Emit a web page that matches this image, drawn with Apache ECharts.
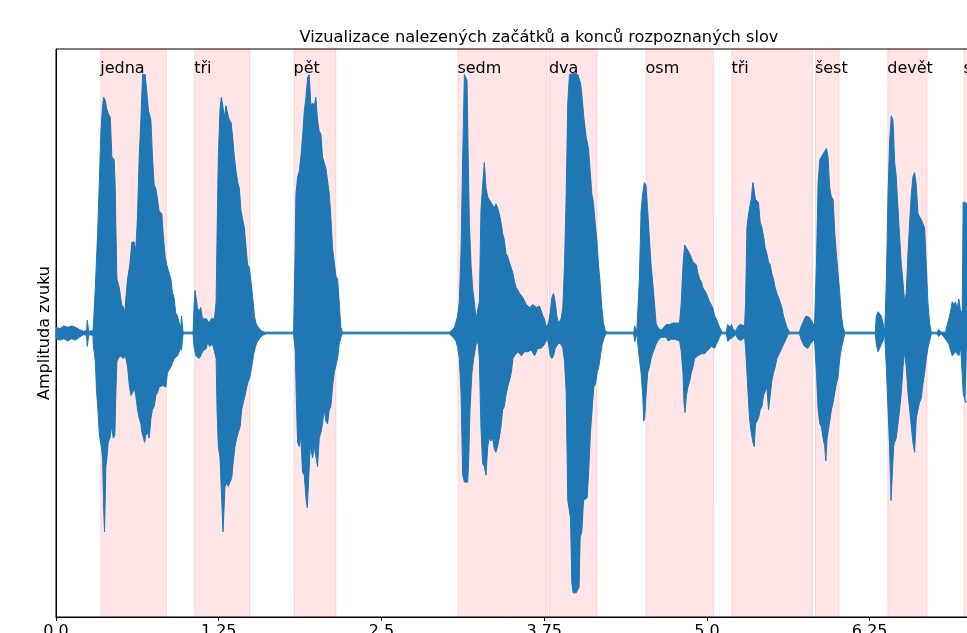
<!DOCTYPE html>
<html>
<head>
<meta charset="utf-8">
<script src="https://cdn.jsdelivr.net/npm/echarts@6/dist/echarts.min.js"></script>
<style>
html,body{margin:0;padding:0;background:#fff;}
#chart{width:967px;height:633px;}
</style>
</head>
<body>
<div id="chart"></div>
<script>
// ---- data (time in seconds, amplitude normalised) ----
const titleText = 'Vizualizace nalezených začátků a konců rozpoznaných slov';
const yAxisName = 'Amplituda zvuku';
const tickValues = [0, 1.25, 2.5, 3.75, 5.0, 6.25];
const tickLabels = ['0.0', '1.25', '2.5', '3.75', '5.0', '6.25'];
const words      = ['jedna', 'tři', 'pět', 'sedm', 'dva', 'osm', 'tři', 'šest', 'devět', 'sedm'];
const wordStarts = [0.344, 1.065, 1.828, 3.087, 3.790, 4.532, 5.192, 5.833, 6.389, 6.975];
const wordEnds   = [0.848, 1.490, 2.150, 3.774, 4.156, 5.051, 5.811, 6.015, 6.691, 7.300];

// upper envelope of the waveform [time, amplitude]
const upperEnvelope = [
[0.000,0.020],[0.030,0.015],[0.060,0.025],[0.090,0.020],[0.120,0.025],[0.150,0.020],[0.180,0.012],[0.210,0.006],[0.235,0.008],[0.240,0.045],[0.248,0.045],[0.252,0.006],[0.284,0.008],
[0.289,0.040],[0.302,0.160],[0.320,0.355],[0.332,0.520],[0.345,0.710],[0.358,0.800],[0.366,0.830],[0.378,0.820],[0.389,0.790],[0.404,0.770],[0.417,0.760],[0.429,0.620],[0.447,0.610],[0.455,0.510],[0.460,0.370],[0.468,0.190],[0.486,0.160],[0.504,0.100],[0.519,0.090],[0.529,0.070],[0.537,0.125],[0.550,0.190],[0.567,0.240],[0.583,0.320],[0.601,0.320],[0.613,0.290],[0.626,0.410],[0.639,0.620],[0.652,0.750],[0.665,0.910],[0.685,0.910],[0.698,0.910],[0.711,0.780],[0.729,0.750],[0.741,0.620],[0.754,0.520],[0.767,0.510],[0.780,0.470],[0.792,0.430],[0.813,0.420],[0.823,0.350],[0.838,0.270],[0.851,0.240],[0.869,0.210],[0.882,0.190],[0.895,0.140],[0.907,0.125],[0.920,0.070],[0.933,0.060],[0.946,0.035],[0.959,0.020],[0.964,0.060],[0.969,0.060],[0.976,0.003],[1.053,0.003],[1.061,0.100],[1.068,0.150],[1.079,0.150],[1.086,0.090],[1.099,0.075],[1.112,0.090],[1.125,0.050],[1.138,0.055],[1.155,0.050],
[1.166,0.050],[1.178,0.035],[1.191,0.050],[1.204,0.055],[1.217,0.050],[1.230,0.110],[1.237,0.340],[1.247,0.620],[1.260,0.790],[1.270,0.830],[1.281,0.800],[1.293,0.760],[1.306,0.800],[1.319,0.770],[1.332,0.750],[1.345,0.740],[1.357,0.690],[1.370,0.620],[1.383,0.570],[1.396,0.530],[1.408,0.510],[1.421,0.430],[1.434,0.400],[1.447,0.370],[1.460,0.300],[1.472,0.240],[1.485,0.230],[1.498,0.180],[1.511,0.125],[1.524,0.060],[1.536,0.035],[1.549,0.023],[1.575,0.008],[1.600,0.003],
[1.825,0.003],[1.835,0.240],[1.843,0.490],[1.856,0.550],[1.869,0.570],[1.881,0.620],[1.894,0.690],[1.907,0.780],[1.920,0.830],[1.933,0.900],[1.945,0.910],[1.958,0.800],[1.971,0.810],[1.984,0.800],[1.996,0.830],[2.009,0.750],[2.022,0.710],[2.035,0.700],[2.047,0.620],[2.060,0.620],[2.073,0.580],[2.086,0.580],[2.099,0.490],[2.111,0.410],[2.124,0.300],[2.137,0.250],[2.150,0.200],[2.163,0.190],[2.175,0.110],[2.188,0.020],[2.201,0.003],
[2.331,0.003],[2.700,0.003],[3.021,0.003],[3.047,0.012],[3.060,0.020],[3.073,0.040],[3.085,0.060],[3.098,0.110],[3.111,0.290],[3.124,0.620],[3.137,0.910],[3.149,0.910],[3.157,0.890],[3.165,0.650],[3.175,0.390],[3.188,0.240],[3.200,0.160],[3.213,0.110],[3.226,0.050],[3.239,0.055],[3.252,0.110],[3.264,0.430],[3.277,0.520],[3.290,0.600],[3.303,0.510],[3.316,0.480],[3.328,0.470],[3.341,0.460],[3.354,0.460],[3.367,0.440],[3.379,0.455],[3.392,0.440],[3.405,0.420],[3.418,0.390],[3.431,0.350],[3.443,0.330],[3.456,0.280],[3.469,0.270],[3.482,0.250],
[3.497,0.250],[3.510,0.210],[3.522,0.180],[3.535,0.160],[3.561,0.140],[3.586,0.125],[3.612,0.100],[3.638,0.090],[3.663,0.100],[3.689,0.090],[3.714,0.095],[3.740,0.060],[3.752,0.050],[3.765,0.020],[3.773,0.020],[3.783,0.035],[3.796,0.070],[3.809,0.125],[3.822,0.140],[3.834,0.110],[3.847,0.060],[3.860,0.035],[3.880,0.050],[3.893,0.090],[3.906,0.240],[3.919,0.490],[3.931,0.810],[3.944,0.910],[3.957,0.915],[3.983,0.915],[4.008,0.910],[4.021,0.910],[4.029,0.880],[4.039,0.840],[4.054,0.760],[4.072,0.690],[4.090,0.650],[4.103,0.570],[4.116,0.490],[4.128,0.460],[4.141,0.390],[4.154,0.330],[4.167,0.240],[4.179,0.180],[4.192,0.090],[4.205,0.035],[4.218,0.008],[4.238,0.003],
[4.438,0.003],[4.445,0.025],[4.453,0.025],[4.461,0.003],[4.476,0.008],[4.481,0.190],[4.494,0.430],[4.507,0.490],[4.519,0.530],[4.532,0.520],[4.545,0.430],[4.558,0.330],[4.571,0.240],[4.583,0.180],[4.596,0.110],[4.609,0.035],[4.622,0.020],[4.647,0.010],
[4.663,0.017],[4.688,0.030],[4.714,0.030],[4.739,0.035],[4.765,0.035],[4.790,0.035],[4.803,0.110],[4.816,0.240],[4.829,0.310],[4.842,0.300],[4.867,0.280],[4.893,0.250],[4.918,0.240],[4.931,0.210],[4.944,0.190],[4.957,0.180],[4.969,0.160],[4.982,0.150],[4.995,0.140],[5.008,0.125],[5.020,0.110],[5.033,0.100],[5.046,0.087],[5.059,0.060],[5.072,0.050],[5.084,0.035],[5.097,0.020],[5.118,0.003],[5.148,0.003],[5.159,0.030],[5.169,0.030],[5.179,0.020],[5.189,0.030],[5.199,0.015],[5.220,0.006],[5.240,0.025],[5.256,0.030],[5.271,0.030],[5.289,0.025],
[5.297,0.110],[5.307,0.370],[5.317,0.410],[5.327,0.440],[5.340,0.470],[5.353,0.530],[5.363,0.535],[5.373,0.470],[5.396,0.460],[5.409,0.390],[5.422,0.370],[5.435,0.340],[5.447,0.300],[5.460,0.280],[5.473,0.250],[5.486,0.240],[5.498,0.210],[5.511,0.190],[5.524,0.160],[5.537,0.140],[5.550,0.125],[5.562,0.110],[5.575,0.090],[5.588,0.060],[5.601,0.040],[5.614,0.020],[5.634,0.003],[5.711,0.003],[5.723,0.023],[5.736,0.035],[5.749,0.050],[5.762,0.060],[5.775,0.060],[5.787,0.055],[5.800,0.050],[5.813,0.035],[5.826,0.023],
[5.841,0.240],[5.854,0.530],[5.867,0.610],[5.879,0.620],[5.892,0.625],[5.905,0.640],[5.918,0.650],[5.930,0.620],[5.943,0.510],[5.956,0.480],[5.969,0.470],[5.982,0.350],[5.994,0.280],[6.007,0.210],[6.020,0.140],[6.033,0.060],[6.046,0.020],[6.058,0.003],
[6.293,0.003],[6.301,0.060],[6.314,0.075],[6.327,0.075],[6.339,0.060],[6.352,0.035],[6.365,0.003],[6.378,0.180],[6.391,0.490],[6.403,0.670],[6.416,0.765],[6.429,0.750],[6.442,0.600],[6.454,0.550],[6.467,0.440],[6.480,0.340],[6.493,0.240],[6.506,0.180],[6.518,0.110],[6.531,0.140],[6.544,0.280],[6.557,0.390],[6.570,0.490],[6.582,0.550],[6.595,0.565],[6.608,0.520],[6.621,0.420],[6.633,0.410],[6.646,0.400],[6.659,0.400],[6.672,0.370],[6.685,0.240],[6.697,0.110],[6.710,0.035],[6.723,0.003],
[6.769,0.003],[6.779,0.012],[6.789,0.012],[6.800,0.003],[6.833,0.003],[6.846,0.030],[6.858,0.050],[6.871,0.075],[6.884,0.110],[6.897,0.100],[6.909,0.110],[6.922,0.085],[6.935,0.120],[6.950,0.070],[6.961,0.080],[6.968,0.460],[6.986,0.460],[7.000,0.450]
];

// lower envelope of the waveform [time, amplitude]
const lowerEnvelope = [
[0.000,-0.020],[0.030,-0.025],[0.060,-0.020],[0.090,-0.028],[0.120,-0.020],[0.150,-0.025],[0.180,-0.015],[0.210,-0.006],[0.235,-0.008],[0.240,-0.047],[0.248,-0.047],[0.252,-0.006],[0.284,-0.008],
[0.286,-0.040],[0.302,-0.100],[0.312,-0.210],[0.322,-0.270],[0.332,-0.350],[0.340,-0.380],[0.348,-0.400],[0.358,-0.440],[0.366,-0.620],[0.373,-0.700],[0.378,-0.700],[0.383,-0.470],[0.391,-0.440],[0.401,-0.385],[0.414,-0.370],[0.427,-0.330],[0.440,-0.370],[0.452,-0.360],[0.460,-0.210],[0.468,-0.100],[0.478,-0.090],[0.491,-0.080],[0.504,-0.085],[0.519,-0.090],[0.529,-0.080],[0.537,-0.090],[0.550,-0.120],[0.562,-0.180],[0.575,-0.220],[0.588,-0.210],[0.601,-0.195],[0.613,-0.220],[0.626,-0.270],[0.639,-0.300],[0.652,-0.320],[0.660,-0.350],[0.672,-0.370],[0.680,-0.385],[0.690,-0.360],[0.703,-0.350],[0.716,-0.370],[0.729,-0.300],[0.741,-0.270],[0.754,-0.260],[0.767,-0.220],[0.780,-0.210],[0.792,-0.190],[0.818,-0.185],[0.844,-0.190],[0.856,-0.140],[0.869,-0.130],[0.882,-0.120],[0.895,-0.105],[0.907,-0.090],[0.920,-0.090],[0.933,-0.080],[0.946,-0.066],[0.959,-0.050],[0.964,-0.060],[0.969,-0.060],[0.976,-0.003],[1.053,-0.003],[1.061,-0.050],[1.074,-0.080],[1.086,-0.085],[1.099,-0.090],[1.112,-0.080],[1.125,-0.066],[1.138,-0.072],[1.155,-0.054],
[1.166,-0.030],[1.178,-0.047],[1.191,-0.054],[1.204,-0.040],[1.217,-0.035],[1.230,-0.090],[1.237,-0.270],[1.247,-0.400],[1.260,-0.440],[1.273,-0.590],[1.283,-0.700],[1.291,-0.700],[1.298,-0.540],[1.311,-0.530],[1.324,-0.540],[1.337,-0.525],[1.350,-0.510],[1.362,-0.450],[1.375,-0.400],[1.388,-0.370],[1.401,-0.350],[1.414,-0.330],[1.426,-0.270],[1.439,-0.245],[1.452,-0.220],[1.465,-0.190],[1.477,-0.170],[1.490,-0.155],[1.503,-0.120],[1.516,-0.080],[1.529,-0.054],[1.541,-0.035],[1.562,-0.020],[1.587,-0.008],[1.613,-0.003],
[1.825,-0.003],[1.838,-0.066],[1.848,-0.270],[1.856,-0.385],[1.869,-0.400],[1.881,-0.370],[1.894,-0.490],[1.907,-0.500],[1.920,-0.580],[1.930,-0.615],[1.945,-0.615],[1.953,-0.400],[1.971,-0.440],[1.984,-0.400],[1.996,-0.400],[2.009,-0.470],[2.022,-0.370],[2.035,-0.350],[2.047,-0.320],[2.060,-0.270],[2.073,-0.310],[2.086,-0.320],[2.099,-0.270],[2.111,-0.260],[2.124,-0.190],[2.137,-0.140],[2.150,-0.140],[2.163,-0.090],[2.175,-0.040],[2.188,-0.015],[2.201,-0.003],
[2.331,-0.003],[2.700,-0.003],[3.021,-0.003],[3.060,-0.020],[3.073,-0.030],[3.085,-0.050],[3.098,-0.090],[3.111,-0.210],[3.124,-0.500],[3.137,-0.525],[3.149,-0.525],[3.162,-0.525],[3.170,-0.450],[3.180,-0.270],[3.195,-0.140],[3.208,-0.090],[3.221,-0.055],[3.231,-0.030],[3.244,-0.040],[3.252,-0.090],[3.264,-0.330],[3.277,-0.460],[3.290,-0.470],[3.303,-0.500],[3.316,-0.400],[3.328,-0.370],[3.341,-0.380],[3.354,-0.370],[3.367,-0.410],[3.379,-0.420],[3.392,-0.400],[3.405,-0.370],[3.418,-0.330],[3.431,-0.270],[3.443,-0.260],[3.456,-0.220],[3.469,-0.190],[3.482,-0.170],
[3.497,-0.140],[3.510,-0.090],[3.522,-0.080],[3.548,-0.066],[3.574,-0.080],[3.599,-0.066],[3.625,-0.066],[3.650,-0.060],[3.676,-0.080],[3.701,-0.054],[3.727,-0.054],[3.752,-0.040],[3.765,-0.028],[3.773,-0.015],[3.783,-0.040],[3.796,-0.080],[3.809,-0.090],[3.822,-0.080],[3.834,-0.055],[3.860,-0.035],[3.880,-0.040],[3.893,-0.054],[3.906,-0.100],[3.919,-0.210],[3.931,-0.590],[3.944,-0.590],[3.952,-0.650],[3.962,-0.880],[3.972,-0.915],[3.995,-0.915],[4.008,-0.910],[4.018,-0.895],[4.026,-0.720],[4.039,-0.700],[4.052,-0.590],[4.080,-0.580],[4.093,-0.475],[4.105,-0.350],[4.118,-0.270],[4.131,-0.190],[4.144,-0.180],[4.156,-0.140],[4.169,-0.120],[4.182,-0.080],[4.195,-0.040],[4.208,-0.020],[4.225,-0.003],
[4.438,-0.003],[4.445,-0.030],[4.453,-0.030],[4.461,-0.003],[4.476,-0.008],[4.481,-0.090],[4.494,-0.140],[4.507,-0.220],[4.514,-0.310],[4.522,-0.300],[4.532,-0.220],[4.545,-0.140],[4.558,-0.120],[4.571,-0.090],[4.583,-0.072],[4.596,-0.066],[4.609,-0.040],[4.622,-0.028],[4.647,-0.015],
[4.663,-0.015],[4.688,-0.015],[4.701,-0.028],[4.727,-0.022],[4.752,-0.022],[4.765,-0.028],[4.790,-0.028],[4.803,-0.066],[4.816,-0.140],[4.824,-0.245],[4.831,-0.280],[4.842,-0.220],[4.854,-0.190],[4.867,-0.170],[4.880,-0.140],[4.893,-0.120],[4.905,-0.090],[4.931,-0.080],[4.957,-0.073],[4.982,-0.073],[5.008,-0.060],[5.033,-0.047],[5.059,-0.054],[5.072,-0.040],[5.084,-0.028],[5.097,-0.015],[5.110,-0.003],[5.148,-0.003],[5.161,-0.030],[5.174,-0.022],[5.187,-0.028],[5.199,-0.015],[5.220,-0.006],[5.240,-0.022],[5.263,-0.026],[5.289,-0.015],
[5.297,-0.054],[5.307,-0.140],[5.317,-0.220],[5.327,-0.300],[5.340,-0.350],[5.353,-0.385],[5.363,-0.400],[5.373,-0.320],[5.383,-0.320],[5.396,-0.300],[5.409,-0.270],[5.422,-0.260],[5.435,-0.220],[5.447,-0.220],[5.460,-0.190],[5.473,-0.270],[5.486,-0.220],[5.498,-0.170],[5.511,-0.140],[5.524,-0.120],[5.537,-0.090],[5.550,-0.090],[5.562,-0.066],[5.575,-0.054],[5.588,-0.040],[5.601,-0.028],[5.614,-0.015],[5.626,-0.003],[5.711,-0.003],[5.723,-0.022],[5.736,-0.035],[5.749,-0.047],[5.762,-0.054],[5.775,-0.054],[5.787,-0.047],[5.800,-0.035],[5.813,-0.028],[5.826,-0.022],
[5.841,-0.140],[5.854,-0.270],[5.867,-0.320],[5.879,-0.330],[5.892,-0.370],[5.905,-0.400],[5.913,-0.450],[5.923,-0.370],[5.930,-0.350],[5.943,-0.310],[5.956,-0.270],[5.969,-0.245],[5.982,-0.210],[5.994,-0.180],[6.007,-0.155],[6.020,-0.090],[6.033,-0.054],[6.046,-0.028],[6.058,-0.003],
[6.293,-0.003],[6.301,-0.040],[6.314,-0.066],[6.327,-0.054],[6.339,-0.040],[6.352,-0.028],[6.365,-0.003],[6.378,-0.120],[6.391,-0.270],[6.403,-0.400],[6.414,-0.590],[6.426,-0.590],[6.434,-0.400],[6.442,-0.385],[6.454,-0.370],[6.467,-0.320],[6.480,-0.270],[6.493,-0.210],[6.506,-0.120],[6.518,-0.066],[6.531,-0.120],[6.544,-0.210],[6.557,-0.270],[6.570,-0.330],[6.582,-0.385],[6.595,-0.420],[6.608,-0.300],[6.621,-0.270],[6.633,-0.245],[6.646,-0.230],[6.659,-0.180],[6.672,-0.140],[6.685,-0.090],[6.697,-0.054],[6.710,-0.028],[6.723,-0.003],
[6.769,-0.003],[6.779,-0.012],[6.789,-0.012],[6.800,-0.003],[6.846,-0.030],[6.858,-0.040],[6.871,-0.060],[6.884,-0.080],[6.897,-0.080],[6.909,-0.066],[6.922,-0.072],[6.935,-0.080],[6.950,-0.054],[6.961,-0.060],[6.968,-0.210],[6.986,-0.245],[7.000,-0.240]
];

const xMax = 7.42;

// ---- chart ----
const chart = echarts.init(document.getElementById('chart'), null, {renderer: 'canvas'});
const FONT = 'DejaVu Sans';
const BLUE = '#1f77b4';

const spans = words.map((w, i) => [
  {name: w, xAxis: wordStarts[i]},
  {xAxis: wordEnds[i]}
]);

const option = {
  animation: false,
  backgroundColor: '#ffffff',
  title: {
    text: titleText,
    left: 539,
    textAlign: 'center',
    top: 30,
    padding: 0,
    textStyle: {fontFamily: FONT, fontSize: 16.2, fontWeight: 'normal', color: '#000'}
  },
  grid: {
    left: 56, top: 49, width: 966, height: 568,
    outerBoundsMode: 'none',
    containLabel: false,
    show: true, borderColor: '#000', borderWidth: 1, backgroundColor: 'transparent'
  },
  xAxis: {
    type: 'value',
    min: 0, max: xMax, interval: 1.25,
    axisLine: {show: true, onZero: false, lineStyle: {color: '#000', width: 1}},
    axisTick: {show: true, length: 4, lineStyle: {color: '#000'}},
    splitLine: {show: false},
    axisLabel: {
      margin: 7, color: '#000', fontFamily: FONT, fontSize: 16,
      formatter: v => {
        const i = tickValues.findIndex(t => Math.abs(t - v) < 1e-6);
        return i >= 0 ? tickLabels[i] : '';
      }
    }
  },
  yAxis: {
    type: 'value',
    min: -1, max: 1,
    name: yAxisName,
    nameLocation: 'middle',
    nameGap: 3,
    nameTextStyle: {fontFamily: FONT, fontSize: 16, color: '#000'},
    axisLine: {show: true, lineStyle: {color: '#000', width: 1}},
    axisTick: {show: false},
    axisLabel: {show: false},
    splitLine: {show: false}
  },
  series: [
    {
      name: 'spans', type: 'line', data: [], z: 1,
      markArea: {
        silent: true,
        itemStyle: {color: 'rgba(255,0,0,0.1)', borderColor: 'rgba(255,0,0,0.12)', borderWidth: 1},
        label: {
          show: true, position: [0, 12], formatter: '{b}',
          color: '#000', fontFamily: FONT, fontSize: 16
        },
        data: spans
      }
    },
    {
      name: 'upper', type: 'line', data: upperEnvelope, z: 3,
      showSymbol: false, symbol: 'none', sampling: false,
      lineStyle: {color: BLUE, width: 1},
      areaStyle: {color: BLUE, opacity: 1, origin: 0}
    },
    {
      name: 'lower', type: 'line', data: lowerEnvelope, z: 3,
      showSymbol: false, symbol: 'none', sampling: false,
      lineStyle: {color: BLUE, width: 1},
      areaStyle: {color: BLUE, opacity: 1, origin: 0}
    }
  ]
};
chart.setOption(option);
</script>
</body>
</html>
